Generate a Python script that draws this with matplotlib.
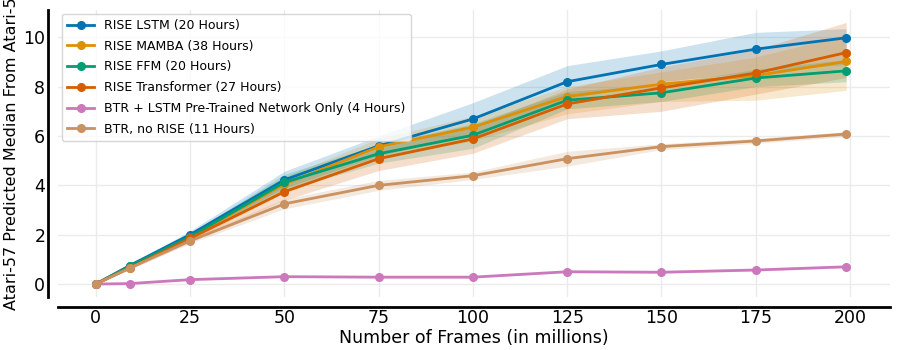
import numpy as np
import matplotlib.pyplot as plt
import seaborn as sns

# frames (millions)
frames = [0, 9, 25, 50, 75, 100, 125, 150, 175, 199]

labels = [
    "RISE LSTM (20 Hours)",
    "RISE MAMBA (38 Hours)",
    "RISE FFM (20 Hours)",
    "RISE Transformer (27 Hours)",
    "BTR + LSTM Pre-Trained Network Only (4 Hours)",
    "BTR, no RISE (11 Hours)",
]

lstm_mean = [0, 0.75, 2.0, 4.22, 5.6, 6.69, 8.2, 8.9, 9.52, 9.98]
lstm_lo = [0, 0.70, 1.85, 3.90, 5.2, 6.10, 7.5, 8.2, 8.6, 8.9]
lstm_hi = [0, 0.80, 2.15, 4.57, 6.0, 7.35, 8.85, 9.45, 10.2, 10.35]

mamba_mean = [0, 0.70, 1.90, 4.05, 5.56, 6.36, 7.6, 8.1, 8.45, 9.02]
mamba_lo = [0, 0.65, 1.75, 3.70, 5.1, 5.8, 6.9, 7.4, 7.45, 7.85]
mamba_hi = [0, 0.75, 2.05, 4.35, 5.9, 6.8, 8.0, 8.6, 9.2, 10.1]

ffm_mean = [0, 0.72, 1.92, 4.12, 5.28, 6.03, 7.45, 7.75, 8.35, 8.64]
ffm_lo = [0, 0.67, 1.80, 3.80, 4.9, 5.5, 7.1, 7.4, 8.0, 8.2]
ffm_hi = [0, 0.77, 2.05, 4.45, 5.65, 6.5, 7.8, 8.1, 8.7, 9.1]

trans_mean = [0, 0.65, 1.85, 3.74, 5.08, 5.88, 7.3, 7.95, 8.55, 9.38]
trans_lo = [0, 0.60, 1.70, 3.40, 4.6, 5.3, 6.7, 7.0, 7.7, 8.37]
trans_hi = [0, 0.70, 2.00, 4.10, 5.5, 6.4, 7.9, 8.8, 9.5, 10.6]

pre_mean = [0, 0.02, 0.18, 0.30, 0.28, 0.28, 0.50, 0.48, 0.57, 0.70]
pre_lo = [0, 0.00, 0.15, 0.27, 0.25, 0.25, 0.46, 0.44, 0.53, 0.66]
pre_hi = [0, 0.04, 0.21, 0.33, 0.31, 0.31, 0.54, 0.52, 0.61, 0.74]

btr_mean = [0, 0.65, 1.75, 3.25, 4.0, 4.39, 5.08, 5.57, 5.8, 6.08]
btr_lo = [0, 0.60, 1.65, 3.05, 3.8, 4.24, 4.78, 5.45, 5.7, 5.98]
btr_hi = [0, 0.70, 1.85, 3.45, 4.2, 4.54, 5.38, 5.69, 5.9, 6.18]

series = [
    (lstm_mean, lstm_lo, lstm_hi),
    (mamba_mean, mamba_lo, mamba_hi),
    (ffm_mean, ffm_lo, ffm_hi),
    (trans_mean, trans_lo, trans_hi),
    (pre_mean, pre_lo, pre_hi),
    (btr_mean, btr_lo, btr_hi),
]

colors = sns.color_palette("colorblind", 6)

fig = plt.figure(figsize=(8.97, 3.5), dpi=100)
ax = fig.add_axes([0.0647, 0.151, 0.927, 0.82])

for (mean, lo, hi), lab, c in zip(series, labels, colors):
    ax.fill_between(frames, lo, hi, color=c, alpha=0.2, linewidth=0)
    ax.plot(frames, mean, color=c, linewidth=2, marker="o", markersize=5.5,
            label=lab)

ax.set_xlim(-10, 210.5)
ax.set_ylim(-0.53, 11.1)
ax.set_xticks(np.arange(0, 201, 25))
ax.set_yticks(np.arange(0, 11, 2))
ax.grid(True, color="#ebebeb", linewidth=1)
ax.set_axisbelow(True)
ax.tick_params(axis="both", length=0, labelsize=12.5)
ax.tick_params(axis="x", pad=1)
ax.tick_params(axis="y", pad=2)

ax.set_xlabel("Number of Frames (in millions)", fontsize=12.5, labelpad=2)
ax.set_ylabel("Atari-57 Predicted Median From Atari-5", fontsize=11.5,
              labelpad=3)

# detached spines, ~10 px away from the data area
for side in ["top", "right"]:
    ax.spines[side].set_visible(False)
for side in ["left", "bottom"]:
    ax.spines[side].set_position(("outward", 7.2))
    ax.spines[side].set_linewidth(2)
    ax.spines[side].set_color("black")

leg = ax.legend(loc="upper left", fontsize=9, frameon=True,
                borderaxespad=0.3, handlelength=2.2, labelspacing=0.62)
leg.get_frame().set_edgecolor("#cccccc")

fig.savefig("out.png", dpi=100)
